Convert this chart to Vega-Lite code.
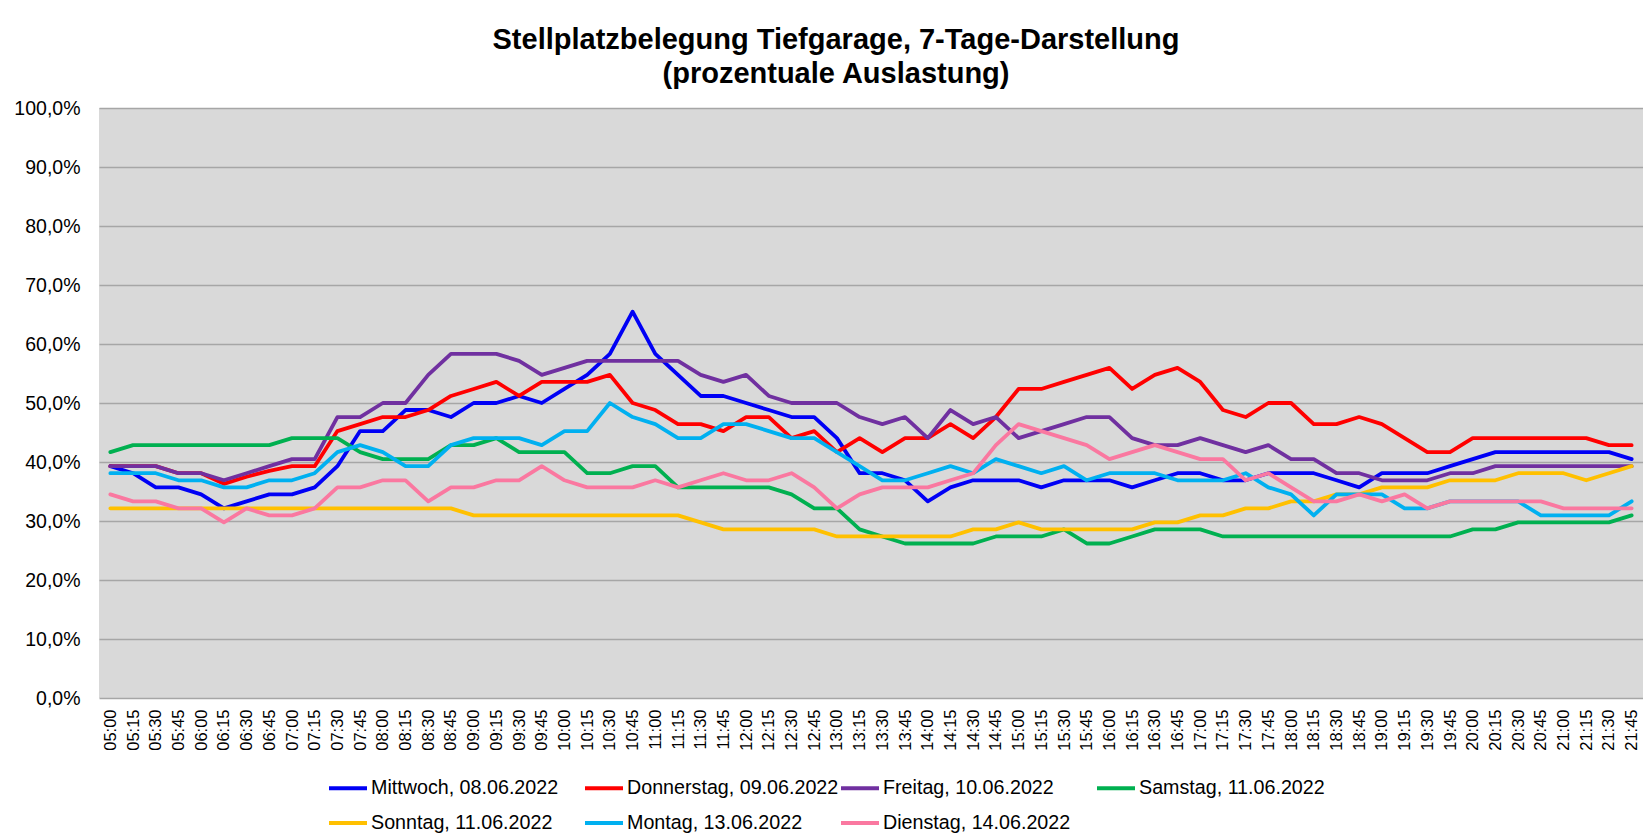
{
"$schema": "https://vega.github.io/schema/vega-lite/v6.json",
"width": 1544, "height": 590,
"autosize": {"type": "none"},
"padding": {"left": 99, "top": 108, "right": 0, "bottom": 141},
"background": "white",
"title": {"text": ["Stellplatzbelegung  Tiefgarage, 7-Tage-Darstellung", "(prozentuale Auslastung)"], "font": "Liberation Sans", "fontSize": 29, "fontWeight": "bold", "lineHeight": 34, "anchor": "middle", "dx": -35, "offset": 9, "color": "black"},
"datasets": {
"raw": [
{"s":"Mittwoch, 08.06.2022","t":"05:00","v":39.29},{"s":"Mittwoch, 08.06.2022","t":"05:15","v":38.10},{"s":"Mittwoch, 08.06.2022","t":"05:30","v":35.71},{"s":"Mittwoch, 08.06.2022","t":"05:45","v":35.71},{"s":"Mittwoch, 08.06.2022","t":"06:00","v":34.52},{"s":"Mittwoch, 08.06.2022","t":"06:15","v":32.14},{"s":"Mittwoch, 08.06.2022","t":"06:30","v":33.33},{"s":"Mittwoch, 08.06.2022","t":"06:45","v":34.52},{"s":"Mittwoch, 08.06.2022","t":"07:00","v":34.52},{"s":"Mittwoch, 08.06.2022","t":"07:15","v":35.71},
{"s":"Mittwoch, 08.06.2022","t":"07:30","v":39.29},{"s":"Mittwoch, 08.06.2022","t":"07:45","v":45.24},{"s":"Mittwoch, 08.06.2022","t":"08:00","v":45.24},{"s":"Mittwoch, 08.06.2022","t":"08:15","v":48.81},{"s":"Mittwoch, 08.06.2022","t":"08:30","v":48.81},{"s":"Mittwoch, 08.06.2022","t":"08:45","v":47.62},{"s":"Mittwoch, 08.06.2022","t":"09:00","v":50.00},{"s":"Mittwoch, 08.06.2022","t":"09:15","v":50.00},{"s":"Mittwoch, 08.06.2022","t":"09:30","v":51.19},{"s":"Mittwoch, 08.06.2022","t":"09:45","v":50.00},
{"s":"Mittwoch, 08.06.2022","t":"10:00","v":52.38},{"s":"Mittwoch, 08.06.2022","t":"10:15","v":54.76},{"s":"Mittwoch, 08.06.2022","t":"10:30","v":58.33},{"s":"Mittwoch, 08.06.2022","t":"10:45","v":65.48},{"s":"Mittwoch, 08.06.2022","t":"11:00","v":58.33},{"s":"Mittwoch, 08.06.2022","t":"11:15","v":54.76},{"s":"Mittwoch, 08.06.2022","t":"11:30","v":51.19},{"s":"Mittwoch, 08.06.2022","t":"11:45","v":51.19},{"s":"Mittwoch, 08.06.2022","t":"12:00","v":50.00},{"s":"Mittwoch, 08.06.2022","t":"12:15","v":48.81},
{"s":"Mittwoch, 08.06.2022","t":"12:30","v":47.62},{"s":"Mittwoch, 08.06.2022","t":"12:45","v":47.62},{"s":"Mittwoch, 08.06.2022","t":"13:00","v":44.05},{"s":"Mittwoch, 08.06.2022","t":"13:15","v":38.10},{"s":"Mittwoch, 08.06.2022","t":"13:30","v":38.10},{"s":"Mittwoch, 08.06.2022","t":"13:45","v":36.90},{"s":"Mittwoch, 08.06.2022","t":"14:00","v":33.33},{"s":"Mittwoch, 08.06.2022","t":"14:15","v":35.71},{"s":"Mittwoch, 08.06.2022","t":"14:30","v":36.90},{"s":"Mittwoch, 08.06.2022","t":"14:45","v":36.90},
{"s":"Mittwoch, 08.06.2022","t":"15:00","v":36.90},{"s":"Mittwoch, 08.06.2022","t":"15:15","v":35.71},{"s":"Mittwoch, 08.06.2022","t":"15:30","v":36.90},{"s":"Mittwoch, 08.06.2022","t":"15:45","v":36.90},{"s":"Mittwoch, 08.06.2022","t":"16:00","v":36.90},{"s":"Mittwoch, 08.06.2022","t":"16:15","v":35.71},{"s":"Mittwoch, 08.06.2022","t":"16:30","v":36.90},{"s":"Mittwoch, 08.06.2022","t":"16:45","v":38.10},{"s":"Mittwoch, 08.06.2022","t":"17:00","v":38.10},{"s":"Mittwoch, 08.06.2022","t":"17:15","v":36.90},
{"s":"Mittwoch, 08.06.2022","t":"17:30","v":36.90},{"s":"Mittwoch, 08.06.2022","t":"17:45","v":38.10},{"s":"Mittwoch, 08.06.2022","t":"18:00","v":38.10},{"s":"Mittwoch, 08.06.2022","t":"18:15","v":38.10},{"s":"Mittwoch, 08.06.2022","t":"18:30","v":36.90},{"s":"Mittwoch, 08.06.2022","t":"18:45","v":35.71},{"s":"Mittwoch, 08.06.2022","t":"19:00","v":38.10},{"s":"Mittwoch, 08.06.2022","t":"19:15","v":38.10},{"s":"Mittwoch, 08.06.2022","t":"19:30","v":38.10},{"s":"Mittwoch, 08.06.2022","t":"19:45","v":39.29},
{"s":"Mittwoch, 08.06.2022","t":"20:00","v":40.48},{"s":"Mittwoch, 08.06.2022","t":"20:15","v":41.67},{"s":"Mittwoch, 08.06.2022","t":"20:30","v":41.67},{"s":"Mittwoch, 08.06.2022","t":"20:45","v":41.67},{"s":"Mittwoch, 08.06.2022","t":"21:00","v":41.67},{"s":"Mittwoch, 08.06.2022","t":"21:15","v":41.67},{"s":"Mittwoch, 08.06.2022","t":"21:30","v":41.67},{"s":"Mittwoch, 08.06.2022","t":"21:45","v":40.48},

{"s":"Donnerstag, 09.06.2022","t":"05:00","v":39.29},{"s":"Donnerstag, 09.06.2022","t":"05:15","v":39.29},{"s":"Donnerstag, 09.06.2022","t":"05:30","v":39.29},{"s":"Donnerstag, 09.06.2022","t":"05:45","v":38.10},{"s":"Donnerstag, 09.06.2022","t":"06:00","v":38.10},{"s":"Donnerstag, 09.06.2022","t":"06:15","v":36.3},{"s":"Donnerstag, 09.06.2022","t":"06:30","v":37.5},{"s":"Donnerstag, 09.06.2022","t":"06:45","v":38.5},{"s":"Donnerstag, 09.06.2022","t":"07:00","v":39.29},{"s":"Donnerstag, 09.06.2022","t":"07:15","v":39.29},
{"s":"Donnerstag, 09.06.2022","t":"07:30","v":45.24},{"s":"Donnerstag, 09.06.2022","t":"07:45","v":46.43},{"s":"Donnerstag, 09.06.2022","t":"08:00","v":47.62},{"s":"Donnerstag, 09.06.2022","t":"08:15","v":47.62},{"s":"Donnerstag, 09.06.2022","t":"08:30","v":48.81},{"s":"Donnerstag, 09.06.2022","t":"08:45","v":51.19},{"s":"Donnerstag, 09.06.2022","t":"09:00","v":52.38},{"s":"Donnerstag, 09.06.2022","t":"09:15","v":53.57},{"s":"Donnerstag, 09.06.2022","t":"09:30","v":51.19},{"s":"Donnerstag, 09.06.2022","t":"09:45","v":53.57},
{"s":"Donnerstag, 09.06.2022","t":"10:00","v":53.57},{"s":"Donnerstag, 09.06.2022","t":"10:15","v":53.57},{"s":"Donnerstag, 09.06.2022","t":"10:30","v":54.76},{"s":"Donnerstag, 09.06.2022","t":"10:45","v":50.00},{"s":"Donnerstag, 09.06.2022","t":"11:00","v":48.81},{"s":"Donnerstag, 09.06.2022","t":"11:15","v":46.43},{"s":"Donnerstag, 09.06.2022","t":"11:30","v":46.43},{"s":"Donnerstag, 09.06.2022","t":"11:45","v":45.24},{"s":"Donnerstag, 09.06.2022","t":"12:00","v":47.62},{"s":"Donnerstag, 09.06.2022","t":"12:15","v":47.62},
{"s":"Donnerstag, 09.06.2022","t":"12:30","v":44.05},{"s":"Donnerstag, 09.06.2022","t":"12:45","v":45.24},{"s":"Donnerstag, 09.06.2022","t":"13:00","v":41.67},{"s":"Donnerstag, 09.06.2022","t":"13:15","v":44.05},{"s":"Donnerstag, 09.06.2022","t":"13:30","v":41.67},{"s":"Donnerstag, 09.06.2022","t":"13:45","v":44.05},{"s":"Donnerstag, 09.06.2022","t":"14:00","v":44.05},{"s":"Donnerstag, 09.06.2022","t":"14:15","v":46.43},{"s":"Donnerstag, 09.06.2022","t":"14:30","v":44.05},{"s":"Donnerstag, 09.06.2022","t":"14:45","v":47.62},
{"s":"Donnerstag, 09.06.2022","t":"15:00","v":52.38},{"s":"Donnerstag, 09.06.2022","t":"15:15","v":52.38},{"s":"Donnerstag, 09.06.2022","t":"15:30","v":53.57},{"s":"Donnerstag, 09.06.2022","t":"15:45","v":54.76},{"s":"Donnerstag, 09.06.2022","t":"16:00","v":55.95},{"s":"Donnerstag, 09.06.2022","t":"16:15","v":52.38},{"s":"Donnerstag, 09.06.2022","t":"16:30","v":54.76},{"s":"Donnerstag, 09.06.2022","t":"16:45","v":55.95},{"s":"Donnerstag, 09.06.2022","t":"17:00","v":53.57},{"s":"Donnerstag, 09.06.2022","t":"17:15","v":48.81},
{"s":"Donnerstag, 09.06.2022","t":"17:30","v":47.62},{"s":"Donnerstag, 09.06.2022","t":"17:45","v":50.00},{"s":"Donnerstag, 09.06.2022","t":"18:00","v":50.00},{"s":"Donnerstag, 09.06.2022","t":"18:15","v":46.43},{"s":"Donnerstag, 09.06.2022","t":"18:30","v":46.43},{"s":"Donnerstag, 09.06.2022","t":"18:45","v":47.62},{"s":"Donnerstag, 09.06.2022","t":"19:00","v":46.43},{"s":"Donnerstag, 09.06.2022","t":"19:15","v":44.05},{"s":"Donnerstag, 09.06.2022","t":"19:30","v":41.67},{"s":"Donnerstag, 09.06.2022","t":"19:45","v":41.67},
{"s":"Donnerstag, 09.06.2022","t":"20:00","v":44.05},{"s":"Donnerstag, 09.06.2022","t":"20:15","v":44.05},{"s":"Donnerstag, 09.06.2022","t":"20:30","v":44.05},{"s":"Donnerstag, 09.06.2022","t":"20:45","v":44.05},{"s":"Donnerstag, 09.06.2022","t":"21:00","v":44.05},{"s":"Donnerstag, 09.06.2022","t":"21:15","v":44.05},{"s":"Donnerstag, 09.06.2022","t":"21:30","v":42.86},{"s":"Donnerstag, 09.06.2022","t":"21:45","v":42.86},

{"s":"Freitag, 10.06.2022","t":"05:00","v":39.29},{"s":"Freitag, 10.06.2022","t":"05:15","v":39.29},{"s":"Freitag, 10.06.2022","t":"05:30","v":39.29},{"s":"Freitag, 10.06.2022","t":"05:45","v":38.10},{"s":"Freitag, 10.06.2022","t":"06:00","v":38.10},{"s":"Freitag, 10.06.2022","t":"06:15","v":36.90},{"s":"Freitag, 10.06.2022","t":"06:30","v":38.10},{"s":"Freitag, 10.06.2022","t":"06:45","v":39.29},{"s":"Freitag, 10.06.2022","t":"07:00","v":40.48},{"s":"Freitag, 10.06.2022","t":"07:15","v":40.48},
{"s":"Freitag, 10.06.2022","t":"07:30","v":47.62},{"s":"Freitag, 10.06.2022","t":"07:45","v":47.62},{"s":"Freitag, 10.06.2022","t":"08:00","v":50.00},{"s":"Freitag, 10.06.2022","t":"08:15","v":50.00},{"s":"Freitag, 10.06.2022","t":"08:30","v":54.76},{"s":"Freitag, 10.06.2022","t":"08:45","v":58.33},{"s":"Freitag, 10.06.2022","t":"09:00","v":58.33},{"s":"Freitag, 10.06.2022","t":"09:15","v":58.33},{"s":"Freitag, 10.06.2022","t":"09:30","v":57.14},{"s":"Freitag, 10.06.2022","t":"09:45","v":54.76},
{"s":"Freitag, 10.06.2022","t":"10:00","v":55.95},{"s":"Freitag, 10.06.2022","t":"10:15","v":57.14},{"s":"Freitag, 10.06.2022","t":"10:30","v":57.14},{"s":"Freitag, 10.06.2022","t":"10:45","v":57.14},{"s":"Freitag, 10.06.2022","t":"11:00","v":57.14},{"s":"Freitag, 10.06.2022","t":"11:15","v":57.14},{"s":"Freitag, 10.06.2022","t":"11:30","v":54.76},{"s":"Freitag, 10.06.2022","t":"11:45","v":53.57},{"s":"Freitag, 10.06.2022","t":"12:00","v":54.76},{"s":"Freitag, 10.06.2022","t":"12:15","v":51.19},
{"s":"Freitag, 10.06.2022","t":"12:30","v":50.00},{"s":"Freitag, 10.06.2022","t":"12:45","v":50.00},{"s":"Freitag, 10.06.2022","t":"13:00","v":50.00},{"s":"Freitag, 10.06.2022","t":"13:15","v":47.62},{"s":"Freitag, 10.06.2022","t":"13:30","v":46.43},{"s":"Freitag, 10.06.2022","t":"13:45","v":47.62},{"s":"Freitag, 10.06.2022","t":"14:00","v":44.05},{"s":"Freitag, 10.06.2022","t":"14:15","v":48.81},{"s":"Freitag, 10.06.2022","t":"14:30","v":46.43},{"s":"Freitag, 10.06.2022","t":"14:45","v":47.62},
{"s":"Freitag, 10.06.2022","t":"15:00","v":44.05},{"s":"Freitag, 10.06.2022","t":"15:15","v":45.24},{"s":"Freitag, 10.06.2022","t":"15:30","v":46.43},{"s":"Freitag, 10.06.2022","t":"15:45","v":47.62},{"s":"Freitag, 10.06.2022","t":"16:00","v":47.62},{"s":"Freitag, 10.06.2022","t":"16:15","v":44.05},{"s":"Freitag, 10.06.2022","t":"16:30","v":42.86},{"s":"Freitag, 10.06.2022","t":"16:45","v":42.86},{"s":"Freitag, 10.06.2022","t":"17:00","v":44.05},{"s":"Freitag, 10.06.2022","t":"17:15","v":42.86},
{"s":"Freitag, 10.06.2022","t":"17:30","v":41.67},{"s":"Freitag, 10.06.2022","t":"17:45","v":42.86},{"s":"Freitag, 10.06.2022","t":"18:00","v":40.48},{"s":"Freitag, 10.06.2022","t":"18:15","v":40.48},{"s":"Freitag, 10.06.2022","t":"18:30","v":38.10},{"s":"Freitag, 10.06.2022","t":"18:45","v":38.10},{"s":"Freitag, 10.06.2022","t":"19:00","v":36.90},{"s":"Freitag, 10.06.2022","t":"19:15","v":36.90},{"s":"Freitag, 10.06.2022","t":"19:30","v":36.90},{"s":"Freitag, 10.06.2022","t":"19:45","v":38.10},
{"s":"Freitag, 10.06.2022","t":"20:00","v":38.10},{"s":"Freitag, 10.06.2022","t":"20:15","v":39.29},{"s":"Freitag, 10.06.2022","t":"20:30","v":39.29},{"s":"Freitag, 10.06.2022","t":"20:45","v":39.29},{"s":"Freitag, 10.06.2022","t":"21:00","v":39.29},{"s":"Freitag, 10.06.2022","t":"21:15","v":39.29},{"s":"Freitag, 10.06.2022","t":"21:30","v":39.29},{"s":"Freitag, 10.06.2022","t":"21:45","v":39.29},

{"s":"Samstag, 11.06.2022","t":"05:00","v":41.67},{"s":"Samstag, 11.06.2022","t":"05:15","v":42.86},{"s":"Samstag, 11.06.2022","t":"05:30","v":42.86},{"s":"Samstag, 11.06.2022","t":"05:45","v":42.86},{"s":"Samstag, 11.06.2022","t":"06:00","v":42.86},{"s":"Samstag, 11.06.2022","t":"06:15","v":42.86},{"s":"Samstag, 11.06.2022","t":"06:30","v":42.86},{"s":"Samstag, 11.06.2022","t":"06:45","v":42.86},{"s":"Samstag, 11.06.2022","t":"07:00","v":44.05},{"s":"Samstag, 11.06.2022","t":"07:15","v":44.05},
{"s":"Samstag, 11.06.2022","t":"07:30","v":44.05},{"s":"Samstag, 11.06.2022","t":"07:45","v":41.67},{"s":"Samstag, 11.06.2022","t":"08:00","v":40.48},{"s":"Samstag, 11.06.2022","t":"08:15","v":40.48},{"s":"Samstag, 11.06.2022","t":"08:30","v":40.48},{"s":"Samstag, 11.06.2022","t":"08:45","v":42.86},{"s":"Samstag, 11.06.2022","t":"09:00","v":42.86},{"s":"Samstag, 11.06.2022","t":"09:15","v":44.05},{"s":"Samstag, 11.06.2022","t":"09:30","v":41.67},{"s":"Samstag, 11.06.2022","t":"09:45","v":41.67},
{"s":"Samstag, 11.06.2022","t":"10:00","v":41.67},{"s":"Samstag, 11.06.2022","t":"10:15","v":38.10},{"s":"Samstag, 11.06.2022","t":"10:30","v":38.10},{"s":"Samstag, 11.06.2022","t":"10:45","v":39.29},{"s":"Samstag, 11.06.2022","t":"11:00","v":39.29},{"s":"Samstag, 11.06.2022","t":"11:15","v":35.71},{"s":"Samstag, 11.06.2022","t":"11:30","v":35.71},{"s":"Samstag, 11.06.2022","t":"11:45","v":35.71},{"s":"Samstag, 11.06.2022","t":"12:00","v":35.71},{"s":"Samstag, 11.06.2022","t":"12:15","v":35.71},
{"s":"Samstag, 11.06.2022","t":"12:30","v":34.52},{"s":"Samstag, 11.06.2022","t":"12:45","v":32.14},{"s":"Samstag, 11.06.2022","t":"13:00","v":32.14},{"s":"Samstag, 11.06.2022","t":"13:15","v":28.57},{"s":"Samstag, 11.06.2022","t":"13:30","v":27.38},{"s":"Samstag, 11.06.2022","t":"13:45","v":26.19},{"s":"Samstag, 11.06.2022","t":"14:00","v":26.19},{"s":"Samstag, 11.06.2022","t":"14:15","v":26.19},{"s":"Samstag, 11.06.2022","t":"14:30","v":26.19},{"s":"Samstag, 11.06.2022","t":"14:45","v":27.38},
{"s":"Samstag, 11.06.2022","t":"15:00","v":27.38},{"s":"Samstag, 11.06.2022","t":"15:15","v":27.38},{"s":"Samstag, 11.06.2022","t":"15:30","v":28.57},{"s":"Samstag, 11.06.2022","t":"15:45","v":26.19},{"s":"Samstag, 11.06.2022","t":"16:00","v":26.19},{"s":"Samstag, 11.06.2022","t":"16:15","v":27.38},{"s":"Samstag, 11.06.2022","t":"16:30","v":28.57},{"s":"Samstag, 11.06.2022","t":"16:45","v":28.57},{"s":"Samstag, 11.06.2022","t":"17:00","v":28.57},{"s":"Samstag, 11.06.2022","t":"17:15","v":27.38},
{"s":"Samstag, 11.06.2022","t":"17:30","v":27.38},{"s":"Samstag, 11.06.2022","t":"17:45","v":27.38},{"s":"Samstag, 11.06.2022","t":"18:00","v":27.38},{"s":"Samstag, 11.06.2022","t":"18:15","v":27.38},{"s":"Samstag, 11.06.2022","t":"18:30","v":27.38},{"s":"Samstag, 11.06.2022","t":"18:45","v":27.38},{"s":"Samstag, 11.06.2022","t":"19:00","v":27.38},{"s":"Samstag, 11.06.2022","t":"19:15","v":27.38},{"s":"Samstag, 11.06.2022","t":"19:30","v":27.38},{"s":"Samstag, 11.06.2022","t":"19:45","v":27.38},
{"s":"Samstag, 11.06.2022","t":"20:00","v":28.57},{"s":"Samstag, 11.06.2022","t":"20:15","v":28.57},{"s":"Samstag, 11.06.2022","t":"20:30","v":29.76},{"s":"Samstag, 11.06.2022","t":"20:45","v":29.76},{"s":"Samstag, 11.06.2022","t":"21:00","v":29.76},{"s":"Samstag, 11.06.2022","t":"21:15","v":29.76},{"s":"Samstag, 11.06.2022","t":"21:30","v":29.76},{"s":"Samstag, 11.06.2022","t":"21:45","v":30.95},

{"s":"Sonntag, 11.06.2022","t":"05:00","v":32.14},{"s":"Sonntag, 11.06.2022","t":"05:15","v":32.14},{"s":"Sonntag, 11.06.2022","t":"05:30","v":32.14},{"s":"Sonntag, 11.06.2022","t":"05:45","v":32.14},{"s":"Sonntag, 11.06.2022","t":"06:00","v":32.14},{"s":"Sonntag, 11.06.2022","t":"06:15","v":32.14},{"s":"Sonntag, 11.06.2022","t":"06:30","v":32.14},{"s":"Sonntag, 11.06.2022","t":"06:45","v":32.14},{"s":"Sonntag, 11.06.2022","t":"07:00","v":32.14},{"s":"Sonntag, 11.06.2022","t":"07:15","v":32.14},
{"s":"Sonntag, 11.06.2022","t":"07:30","v":32.14},{"s":"Sonntag, 11.06.2022","t":"07:45","v":32.14},{"s":"Sonntag, 11.06.2022","t":"08:00","v":32.14},{"s":"Sonntag, 11.06.2022","t":"08:15","v":32.14},{"s":"Sonntag, 11.06.2022","t":"08:30","v":32.14},{"s":"Sonntag, 11.06.2022","t":"08:45","v":32.14},{"s":"Sonntag, 11.06.2022","t":"09:00","v":30.95},{"s":"Sonntag, 11.06.2022","t":"09:15","v":30.95},{"s":"Sonntag, 11.06.2022","t":"09:30","v":30.95},{"s":"Sonntag, 11.06.2022","t":"09:45","v":30.95},
{"s":"Sonntag, 11.06.2022","t":"10:00","v":30.95},{"s":"Sonntag, 11.06.2022","t":"10:15","v":30.95},{"s":"Sonntag, 11.06.2022","t":"10:30","v":30.95},{"s":"Sonntag, 11.06.2022","t":"10:45","v":30.95},{"s":"Sonntag, 11.06.2022","t":"11:00","v":30.95},{"s":"Sonntag, 11.06.2022","t":"11:15","v":30.95},{"s":"Sonntag, 11.06.2022","t":"11:30","v":29.76},{"s":"Sonntag, 11.06.2022","t":"11:45","v":28.57},{"s":"Sonntag, 11.06.2022","t":"12:00","v":28.57},{"s":"Sonntag, 11.06.2022","t":"12:15","v":28.57},
{"s":"Sonntag, 11.06.2022","t":"12:30","v":28.57},{"s":"Sonntag, 11.06.2022","t":"12:45","v":28.57},{"s":"Sonntag, 11.06.2022","t":"13:00","v":27.38},{"s":"Sonntag, 11.06.2022","t":"13:15","v":27.38},{"s":"Sonntag, 11.06.2022","t":"13:30","v":27.38},{"s":"Sonntag, 11.06.2022","t":"13:45","v":27.38},{"s":"Sonntag, 11.06.2022","t":"14:00","v":27.38},{"s":"Sonntag, 11.06.2022","t":"14:15","v":27.38},{"s":"Sonntag, 11.06.2022","t":"14:30","v":28.57},{"s":"Sonntag, 11.06.2022","t":"14:45","v":28.57},
{"s":"Sonntag, 11.06.2022","t":"15:00","v":29.76},{"s":"Sonntag, 11.06.2022","t":"15:15","v":28.57},{"s":"Sonntag, 11.06.2022","t":"15:30","v":28.57},{"s":"Sonntag, 11.06.2022","t":"15:45","v":28.57},{"s":"Sonntag, 11.06.2022","t":"16:00","v":28.57},{"s":"Sonntag, 11.06.2022","t":"16:15","v":28.57},{"s":"Sonntag, 11.06.2022","t":"16:30","v":29.76},{"s":"Sonntag, 11.06.2022","t":"16:45","v":29.76},{"s":"Sonntag, 11.06.2022","t":"17:00","v":30.95},{"s":"Sonntag, 11.06.2022","t":"17:15","v":30.95},
{"s":"Sonntag, 11.06.2022","t":"17:30","v":32.14},{"s":"Sonntag, 11.06.2022","t":"17:45","v":32.14},{"s":"Sonntag, 11.06.2022","t":"18:00","v":33.33},{"s":"Sonntag, 11.06.2022","t":"18:15","v":33.33},{"s":"Sonntag, 11.06.2022","t":"18:30","v":34.52},{"s":"Sonntag, 11.06.2022","t":"18:45","v":34.52},{"s":"Sonntag, 11.06.2022","t":"19:00","v":35.71},{"s":"Sonntag, 11.06.2022","t":"19:15","v":35.71},{"s":"Sonntag, 11.06.2022","t":"19:30","v":35.71},{"s":"Sonntag, 11.06.2022","t":"19:45","v":36.90},
{"s":"Sonntag, 11.06.2022","t":"20:00","v":36.90},{"s":"Sonntag, 11.06.2022","t":"20:15","v":36.90},{"s":"Sonntag, 11.06.2022","t":"20:30","v":38.10},{"s":"Sonntag, 11.06.2022","t":"20:45","v":38.10},{"s":"Sonntag, 11.06.2022","t":"21:00","v":38.10},{"s":"Sonntag, 11.06.2022","t":"21:15","v":36.90},{"s":"Sonntag, 11.06.2022","t":"21:30","v":38.10},{"s":"Sonntag, 11.06.2022","t":"21:45","v":39.29},

{"s":"Montag, 13.06.2022","t":"05:00","v":38.10},{"s":"Montag, 13.06.2022","t":"05:15","v":38.10},{"s":"Montag, 13.06.2022","t":"05:30","v":38.10},{"s":"Montag, 13.06.2022","t":"05:45","v":36.90},{"s":"Montag, 13.06.2022","t":"06:00","v":36.90},{"s":"Montag, 13.06.2022","t":"06:15","v":35.71},{"s":"Montag, 13.06.2022","t":"06:30","v":35.71},{"s":"Montag, 13.06.2022","t":"06:45","v":36.90},{"s":"Montag, 13.06.2022","t":"07:00","v":36.90},{"s":"Montag, 13.06.2022","t":"07:15","v":38.10},
{"s":"Montag, 13.06.2022","t":"07:30","v":41.67},{"s":"Montag, 13.06.2022","t":"07:45","v":42.86},{"s":"Montag, 13.06.2022","t":"08:00","v":41.67},{"s":"Montag, 13.06.2022","t":"08:15","v":39.29},{"s":"Montag, 13.06.2022","t":"08:30","v":39.29},{"s":"Montag, 13.06.2022","t":"08:45","v":42.86},{"s":"Montag, 13.06.2022","t":"09:00","v":44.05},{"s":"Montag, 13.06.2022","t":"09:15","v":44.05},{"s":"Montag, 13.06.2022","t":"09:30","v":44.05},{"s":"Montag, 13.06.2022","t":"09:45","v":42.86},
{"s":"Montag, 13.06.2022","t":"10:00","v":45.24},{"s":"Montag, 13.06.2022","t":"10:15","v":45.24},{"s":"Montag, 13.06.2022","t":"10:30","v":50.00},{"s":"Montag, 13.06.2022","t":"10:45","v":47.62},{"s":"Montag, 13.06.2022","t":"11:00","v":46.43},{"s":"Montag, 13.06.2022","t":"11:15","v":44.05},{"s":"Montag, 13.06.2022","t":"11:30","v":44.05},{"s":"Montag, 13.06.2022","t":"11:45","v":46.43},{"s":"Montag, 13.06.2022","t":"12:00","v":46.43},{"s":"Montag, 13.06.2022","t":"12:15","v":45.24},
{"s":"Montag, 13.06.2022","t":"12:30","v":44.05},{"s":"Montag, 13.06.2022","t":"12:45","v":44.05},{"s":"Montag, 13.06.2022","t":"13:00","v":41.67},{"s":"Montag, 13.06.2022","t":"13:15","v":39.29},{"s":"Montag, 13.06.2022","t":"13:30","v":36.90},{"s":"Montag, 13.06.2022","t":"13:45","v":36.90},{"s":"Montag, 13.06.2022","t":"14:00","v":38.10},{"s":"Montag, 13.06.2022","t":"14:15","v":39.29},{"s":"Montag, 13.06.2022","t":"14:30","v":38.10},{"s":"Montag, 13.06.2022","t":"14:45","v":40.48},
{"s":"Montag, 13.06.2022","t":"15:00","v":39.29},{"s":"Montag, 13.06.2022","t":"15:15","v":38.10},{"s":"Montag, 13.06.2022","t":"15:30","v":39.29},{"s":"Montag, 13.06.2022","t":"15:45","v":36.90},{"s":"Montag, 13.06.2022","t":"16:00","v":38.10},{"s":"Montag, 13.06.2022","t":"16:15","v":38.10},{"s":"Montag, 13.06.2022","t":"16:30","v":38.10},{"s":"Montag, 13.06.2022","t":"16:45","v":36.90},{"s":"Montag, 13.06.2022","t":"17:00","v":36.90},{"s":"Montag, 13.06.2022","t":"17:15","v":36.90},
{"s":"Montag, 13.06.2022","t":"17:30","v":38.10},{"s":"Montag, 13.06.2022","t":"17:45","v":35.71},{"s":"Montag, 13.06.2022","t":"18:00","v":34.52},{"s":"Montag, 13.06.2022","t":"18:15","v":30.95},{"s":"Montag, 13.06.2022","t":"18:30","v":34.52},{"s":"Montag, 13.06.2022","t":"18:45","v":34.52},{"s":"Montag, 13.06.2022","t":"19:00","v":34.52},{"s":"Montag, 13.06.2022","t":"19:15","v":32.14},{"s":"Montag, 13.06.2022","t":"19:30","v":32.14},{"s":"Montag, 13.06.2022","t":"19:45","v":33.33},
{"s":"Montag, 13.06.2022","t":"20:00","v":33.33},{"s":"Montag, 13.06.2022","t":"20:15","v":33.33},{"s":"Montag, 13.06.2022","t":"20:30","v":33.33},{"s":"Montag, 13.06.2022","t":"20:45","v":30.95},{"s":"Montag, 13.06.2022","t":"21:00","v":30.95},{"s":"Montag, 13.06.2022","t":"21:15","v":30.95},{"s":"Montag, 13.06.2022","t":"21:30","v":30.95},{"s":"Montag, 13.06.2022","t":"21:45","v":33.33},

{"s":"Dienstag, 14.06.2022","t":"05:00","v":34.52},{"s":"Dienstag, 14.06.2022","t":"05:15","v":33.33},{"s":"Dienstag, 14.06.2022","t":"05:30","v":33.33},{"s":"Dienstag, 14.06.2022","t":"05:45","v":32.14},{"s":"Dienstag, 14.06.2022","t":"06:00","v":32.14},{"s":"Dienstag, 14.06.2022","t":"06:15","v":29.76},{"s":"Dienstag, 14.06.2022","t":"06:30","v":32.14},{"s":"Dienstag, 14.06.2022","t":"06:45","v":30.95},{"s":"Dienstag, 14.06.2022","t":"07:00","v":30.95},{"s":"Dienstag, 14.06.2022","t":"07:15","v":32.14},
{"s":"Dienstag, 14.06.2022","t":"07:30","v":35.71},{"s":"Dienstag, 14.06.2022","t":"07:45","v":35.71},{"s":"Dienstag, 14.06.2022","t":"08:00","v":36.90},{"s":"Dienstag, 14.06.2022","t":"08:15","v":36.90},{"s":"Dienstag, 14.06.2022","t":"08:30","v":33.33},{"s":"Dienstag, 14.06.2022","t":"08:45","v":35.71},{"s":"Dienstag, 14.06.2022","t":"09:00","v":35.71},{"s":"Dienstag, 14.06.2022","t":"09:15","v":36.90},{"s":"Dienstag, 14.06.2022","t":"09:30","v":36.90},{"s":"Dienstag, 14.06.2022","t":"09:45","v":39.29},
{"s":"Dienstag, 14.06.2022","t":"10:00","v":36.90},{"s":"Dienstag, 14.06.2022","t":"10:15","v":35.71},{"s":"Dienstag, 14.06.2022","t":"10:30","v":35.71},{"s":"Dienstag, 14.06.2022","t":"10:45","v":35.71},{"s":"Dienstag, 14.06.2022","t":"11:00","v":36.90},{"s":"Dienstag, 14.06.2022","t":"11:15","v":35.71},{"s":"Dienstag, 14.06.2022","t":"11:30","v":36.90},{"s":"Dienstag, 14.06.2022","t":"11:45","v":38.10},{"s":"Dienstag, 14.06.2022","t":"12:00","v":36.90},{"s":"Dienstag, 14.06.2022","t":"12:15","v":36.90},
{"s":"Dienstag, 14.06.2022","t":"12:30","v":38.10},{"s":"Dienstag, 14.06.2022","t":"12:45","v":35.71},{"s":"Dienstag, 14.06.2022","t":"13:00","v":32.14},{"s":"Dienstag, 14.06.2022","t":"13:15","v":34.52},{"s":"Dienstag, 14.06.2022","t":"13:30","v":35.71},{"s":"Dienstag, 14.06.2022","t":"13:45","v":35.71},{"s":"Dienstag, 14.06.2022","t":"14:00","v":35.71},{"s":"Dienstag, 14.06.2022","t":"14:15","v":36.90},{"s":"Dienstag, 14.06.2022","t":"14:30","v":38.10},{"s":"Dienstag, 14.06.2022","t":"14:45","v":42.86},
{"s":"Dienstag, 14.06.2022","t":"15:00","v":46.43},{"s":"Dienstag, 14.06.2022","t":"15:15","v":45.24},{"s":"Dienstag, 14.06.2022","t":"15:30","v":44.05},{"s":"Dienstag, 14.06.2022","t":"15:45","v":42.86},{"s":"Dienstag, 14.06.2022","t":"16:00","v":40.48},{"s":"Dienstag, 14.06.2022","t":"16:15","v":41.67},{"s":"Dienstag, 14.06.2022","t":"16:30","v":42.86},{"s":"Dienstag, 14.06.2022","t":"16:45","v":41.67},{"s":"Dienstag, 14.06.2022","t":"17:00","v":40.48},{"s":"Dienstag, 14.06.2022","t":"17:15","v":40.48},
{"s":"Dienstag, 14.06.2022","t":"17:30","v":36.90},{"s":"Dienstag, 14.06.2022","t":"17:45","v":38.10},{"s":"Dienstag, 14.06.2022","t":"18:00","v":35.71},{"s":"Dienstag, 14.06.2022","t":"18:15","v":33.33},{"s":"Dienstag, 14.06.2022","t":"18:30","v":33.33},{"s":"Dienstag, 14.06.2022","t":"18:45","v":34.52},{"s":"Dienstag, 14.06.2022","t":"19:00","v":33.33},{"s":"Dienstag, 14.06.2022","t":"19:15","v":34.52},{"s":"Dienstag, 14.06.2022","t":"19:30","v":32.14},{"s":"Dienstag, 14.06.2022","t":"19:45","v":33.33},
{"s":"Dienstag, 14.06.2022","t":"20:00","v":33.33},{"s":"Dienstag, 14.06.2022","t":"20:15","v":33.33},{"s":"Dienstag, 14.06.2022","t":"20:30","v":33.33},{"s":"Dienstag, 14.06.2022","t":"20:45","v":33.33},{"s":"Dienstag, 14.06.2022","t":"21:00","v":32.14},{"s":"Dienstag, 14.06.2022","t":"21:15","v":32.14},{"s":"Dienstag, 14.06.2022","t":"21:30","v":32.14},{"s":"Dienstag, 14.06.2022","t":"21:45","v":32.14}
]
},
"data": {"name": "raw"},
"mark": {"type": "line", "strokeWidth": 3.8, "strokeJoin": "round", "strokeCap": "round"},
"encoding": {
  "x": {"field": "t", "type": "ordinal", "sort": null,
        "scale": {"type": "point", "padding": 0.5},
        "axis": {"title": null, "labelAngle": 270, "labelFontSize": 16.5, "labelFont": "Liberation Sans", "labelColor": "black", "ticks": false, "domain": false, "labelPadding": 11, "labelOverlap": false, "grid": false}},
  "y": {"field": "v", "type": "quantitative",
        "scale": {"domain": [0, 100], "nice": false, "zero": true},
        "axis": {"title": null, "values": [0,10,20,30,40,50,60,70,80,90,100], "labelExpr": "replace(format(datum.value, '.1f'), '.', ',') + '%'", "labelFontSize": 19.5, "labelFont": "Liberation Sans", "labelColor": "black", "ticks": false, "domain": false, "labelPadding": 19, "gridColor": "#a6a6a6", "gridWidth": 1.5}},
  "color": {"field": "s", "type": "nominal",
        "scale": {"domain": ["Mittwoch, 08.06.2022", "Donnerstag, 09.06.2022", "Freitag, 10.06.2022", "Samstag, 11.06.2022", "Sonntag, 11.06.2022", "Montag, 13.06.2022", "Dienstag, 14.06.2022"],
                  "range": ["#0000f5", "#ff0000", "#7030a0", "#00b050", "#ffc000", "#00b0f0", "#fa78a0"]},
        "legend": {"title": null, "orient": "none", "legendX": 228, "legendY": 659, "direction": "horizontal", "columns": 4, "gridAlign": "all", "symbolType": "stroke", "symbolSize": 1444, "symbolStrokeWidth": 4, "labelFontSize": 19.7, "labelFont": "Liberation Sans", "labelColor": "black", "labelOffset": 2, "columnPadding": -6, "rowPadding": 4, "padding": 0, "labelLimit": 400}}
},
"config": {"view": {"fill": "#d9d9d9", "stroke": null}}
}
